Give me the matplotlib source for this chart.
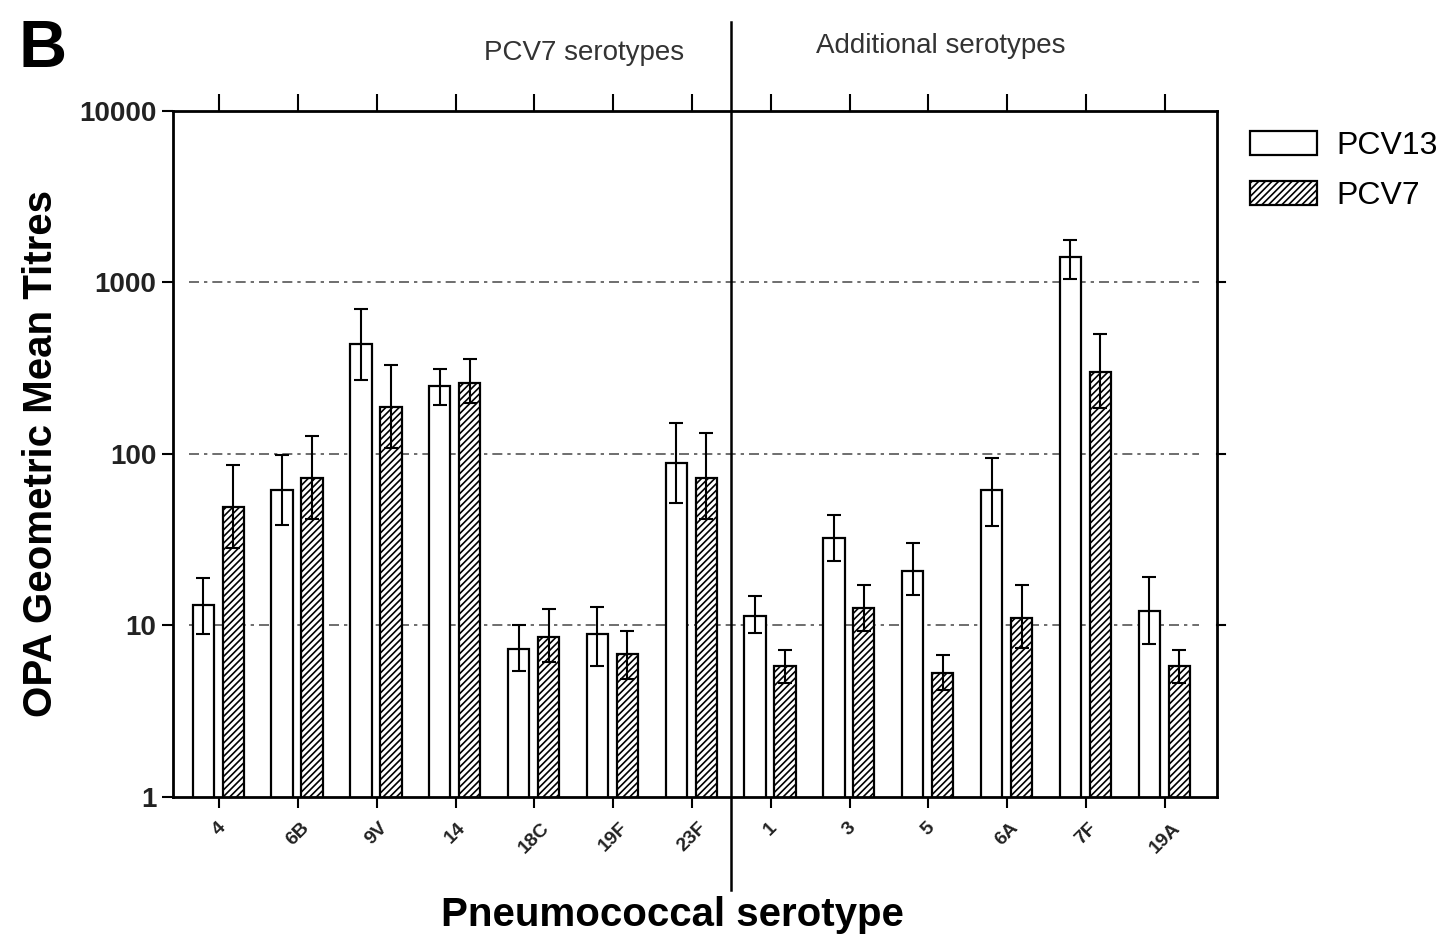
import numpy as np
import matplotlib
matplotlib.use("Agg")
import matplotlib.pyplot as plt
from matplotlib.patches import Patch

plt.rcParams['font.family'] = ['Liberation Sans', 'DejaVu Sans']
plt.rcParams['hatch.linewidth'] = 1.2

serotypes = ["4", "6B", "9V", "14", "18C", "19F", "23F", "1", "3", "5", "6A", "7F", "19A"]

# OPA GMTs with lower / upper 95% CI
pcv13 = [13.1, 62, 438, 249, 7.3, 8.9, 88, 11.4, 32.3, 20.9, 61.8, 1400, 12.2]
pcv13_lo = [8.9, 38.4, 270, 193, 5.4, 5.8, 52, 9.0, 23.9, 15.0, 38.1, 1050, 7.8]
pcv13_hi = [19.0, 99, 703, 313, 10.0, 12.8, 152, 14.8, 44.1, 30.2, 95, 1756, 19.1]

pcv7 = [49.2, 72.8, 188, 260, 8.6, 6.8, 72.8, 5.8, 12.6, 5.3, 11.1, 302, 5.8]
pcv7_lo = [28.2, 42, 109, 197, 6.1, 4.9, 42, 4.6, 9.3, 4.2, 7.4, 186, 4.6]
pcv7_hi = [86.5, 128, 328, 360, 12.5, 9.3, 133, 7.2, 17.3, 6.7, 17.3, 500, 7.2]

x = np.arange(len(serotypes))
pcv13 = np.array(pcv13)
pcv7 = np.array(pcv7)

fig = plt.figure(figsize=(14.54, 9.36), dpi=100)
ax = fig.add_axes([0.119, 0.1485, 0.718, 0.733])

w = 0.27
ax.bar(x - 0.2, pcv13, w, bottom=0, color='white', edgecolor='black', linewidth=1.6, zorder=2)
ax.bar(x + 0.18, pcv7, w, bottom=0, color='white', edgecolor='black', hatch='/////', linewidth=1.6, zorder=2)

ax.errorbar(x - 0.2, pcv13, yerr=[pcv13 - np.array(pcv13_lo), np.array(pcv13_hi) - pcv13],
            fmt='none', ecolor='black', elinewidth=1.5, capsize=5, capthick=1.5, zorder=3)
ax.errorbar(x + 0.18, pcv7, yerr=[pcv7 - np.array(pcv7_lo), np.array(pcv7_hi) - pcv7],
            fmt='none', ecolor='black', elinewidth=1.5, capsize=5, capthick=1.5, zorder=3)

ax.set_yscale('log')
ax.set_ylim(1, 10000)
ax.set_xlim(-0.584, 12.66)
ax.set_yticks([1, 10, 100, 1000, 10000])
ax.set_yticklabels(["1", "10", "100", "1000", "10000"], fontsize=20, fontweight='bold', color='#222222')
ax.yaxis.set_minor_locator(matplotlib.ticker.NullLocator())

# dash-dot grid at each decade
ax.hlines([10, 100, 1000], -0.38, 12.43, colors='#555555', linewidth=1.2,
          linestyles=[(0, (6, 3, 2, 3))], zorder=1)

ax.set_xticks(x)
ax.set_xticklabels(serotypes, rotation=45, fontsize=14, fontweight='bold', color='#222222')
ax.tick_params(axis='x', direction='out', length=8, width=1.5, top=True, pad=8)
ax.tick_params(axis='y', direction='out', length=8, width=1.5, pad=4)
for t in ax.xaxis.get_major_ticks():
    t.tick2line.set_markersize(12)

for s in ax.spines.values():
    s.set_linewidth(2)

# right spine decade ticks
for yv in [10, 100, 1000]:
    ax.plot([1.0, 1.008], [yv, yv], transform=ax.get_yaxis_transform(), color='black',
            linewidth=1.5, clip_on=False)

# divider between vaccine serotype groups
ax.axvline(6.5, ymin=-0.136, ymax=1.13, color='black', linewidth=1.8, clip_on=False, zorder=4)

ax.text(0.394, 1.085, "PCV7 serotypes", transform=ax.transAxes, ha='center', va='center',
        fontsize=20, color='#333333')
ax.text(0.735, 1.095, "Additional serotypes", transform=ax.transAxes, ha='center', va='center',
        fontsize=20, color='#333333')

ax.set_ylabel("OPA Geometric Mean Titres", fontsize=29, fontweight='bold', labelpad=14)
ax.set_xlabel("Pneumococcal serotype", fontsize=29, fontweight='bold', labelpad=10)
ax.xaxis.set_label_coords(0.478, -0.145)

fig.text(0.013, 0.947, "B", fontsize=48, fontweight='bold', va='center', ha='left')

handles = [Patch(facecolor='white', edgecolor='black', linewidth=1.6, label='PCV13'),
           Patch(facecolor='white', edgecolor='black', hatch='/////', linewidth=1.6, label='PCV7')]
fig.legend(handles=handles, loc='upper left', bbox_to_anchor=(0.84, 0.891), frameon=False,
           fontsize=23, handlelength=2.1, handleheight=0.8, handletextpad=0.6, labelspacing=0.62)

fig.savefig("out.png", dpi=100)
